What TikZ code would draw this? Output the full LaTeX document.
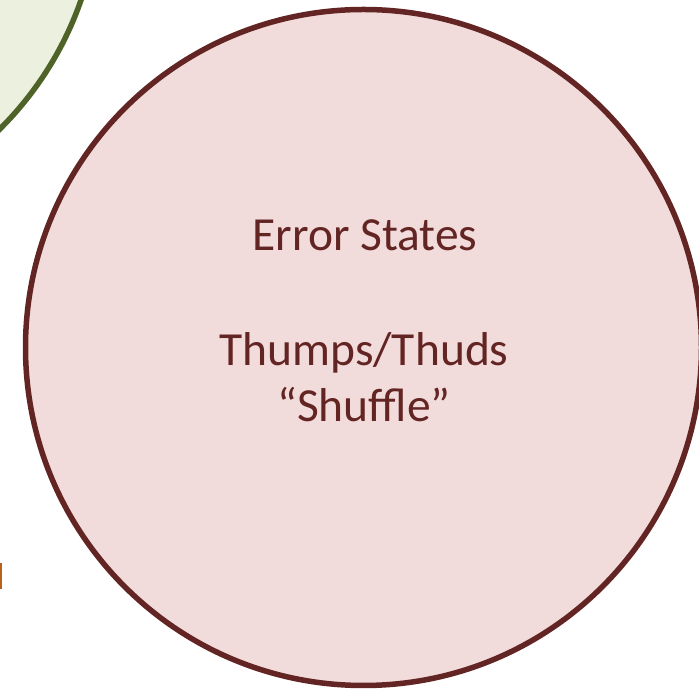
\documentclass[tikz,border=0pt]{standalone}
\usepackage{fontspec}
\setmainfont{Carlito}
\definecolor{errfill}{HTML}{F2DCDB}
\definecolor{errline}{HTML}{632523}
\definecolor{okfill}{HTML}{EBF1DE}
\definecolor{okline}{HTML}{4F6228}
\definecolor{warnline}{HTML}{B8621B}
\tikzset{
  setcircle/.style={circle, inner sep=0pt, outer sep=0pt, minimum size=676pt, line width=5.5pt},
  label text/.style={anchor=base, inner sep=0pt, text=errline,
    font=\fontsize{47.5}{57}\selectfont}
}
\begin{document}
\begin{tikzpicture}[x=1pt,y=1pt]
  \useasboundingbox (0,0) rectangle (699,690);
  \begin{scope}
    \clip (0,0) rectangle (699,690);
    % neighbouring set, only partly in view
    \node[setcircle, draw=okline, fill=okfill] (ok) at (-238.4,800.7) {};
    % edge of a third set
    \fill[warnline] (0,101) rectangle (2,127);
    % error set
    \node[setcircle, draw=errline, fill=errfill] (err) at (363.5,342.5) {};
  \end{scope}
  \node[label text] (t1) at (365,439.3) {Error States};
  \node[label text] (t2) at (364,324.3) {Thumps/Thuds};
  \node[label text] (t3) at (364,268.3) {“Shuffle”};
\end{tikzpicture}
\end{document}
